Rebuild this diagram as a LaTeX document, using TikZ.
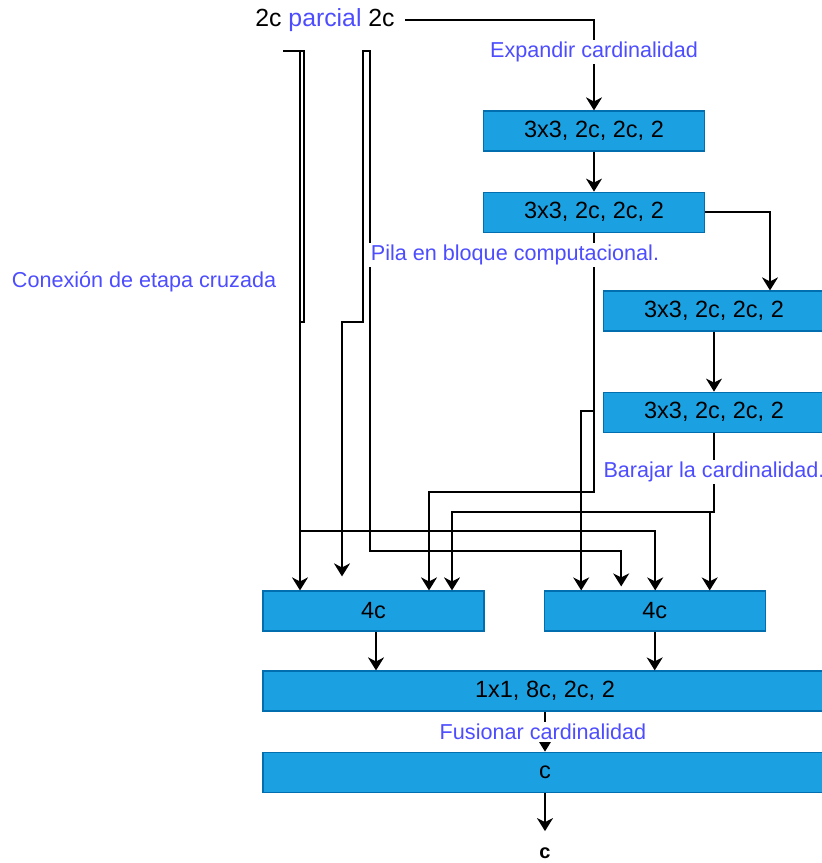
\documentclass[tikz,border=0pt]{standalone}
\usepackage{fontspec}
\setmainfont{Liberation Sans}
\definecolor{bloqueazul}{RGB}{27, 161, 226}
\definecolor{bordeazul}{RGB}{0, 110, 175}
\definecolor{textoazul}{RGB}{77, 77, 255}
\usetikzlibrary{arrows.meta, positioning, calc}

\begin{document}
\begin{tikzpicture}[x=0.5pt, y=-0.5pt,
  bloque/.style={draw=bordeazul, fill=bloqueazul, line width=0.6pt, minimum width=110.5pt, minimum height=20pt, inner sep=0pt, font=\fontsize{11.75}{14}\selectfont},
  bloqueancho/.style={bloque, minimum width=282pt},
  etiqueta/.style={fill=white, text=textoazul, inner sep=1pt, font=\fontsize{10.8}{13}\selectfont},
  flecha/.style={line width=0.8pt, -{Stealth[length=6.5pt, width=8pt, inset=2pt]}}]

  \useasboundingbox (0,0) rectangle (822,863);

  % entrada
  \node[anchor=west, inner sep=5pt, font=\fontsize{12.4}{15}\selectfont] (entrada) at (245,20) {2c \textcolor{textoazul}{parcial} 2c};
  \coordinate (s1) at (283,51);
  \coordinate (s2) at (366.5,51);

  % bloques
  \node[bloque] (b1) at (594,131) {3x3, 2c, 2c, 2};
  \node[bloque, below=20pt of b1] (b2) {3x3, 2c, 2c, 2};
  \node[bloque] (b3) at (714,311) {3x3, 2c, 2c, 2};
  \node[bloque, below=30pt of b3] (b4) {3x3, 2c, 2c, 2};
  \node[bloque] (c4a) at (373.5,611) {4c};
  \node[bloque, right=29.5pt of c4a] (c4b) {4c};
  \node[bloqueancho] (fus) at (545,691) {1x1, 8c, 2c, 2};
  \node[bloqueancho, below=20pt of fus] (sal) {c};
  \node[inner sep=0pt, font=\bfseries\fontsize{10}{12}\selectfont] (fin) at (545,853) {c};

  % conexiones
  \draw[flecha] (entrada.east) -| (b1.north);
  \draw[flecha] (b1) -- (b2);
  \draw[flecha] (b2.east) -| ($(b3.north)+(56,0)$);
  \draw[flecha] (b3) -- (b4);
  \draw[flecha] (b2.south) -- (b2.south |- 0,492) -| ($(c4a.north)+(55.5,0)$);
  \draw[flecha] (b2.south) -- (b2.south |- 0,411) -| ($(c4b.north)+(-73.5,0)$);
  \draw[flecha] (b4.south) -- (b4.south |- 0,512) -| ($(c4a.north)+(78.5,0)$);
  \draw[flecha] (b4.south) -- (b4.south |- 0,512) -| ($(c4b.north)+(55,0)$);
  \draw[flecha] (s1) -- (304,51) -- (304,322) -- (300,322) -- ($(c4a.north)+(-73.5,0)$);
  \draw[flecha] (s1) -| (300,531) -| ($(c4b.north)+(0.5,0)$);
  \draw[flecha, shorten >=7pt] (s2) -- (363,51) -- (363,322) -| ($(c4a.north)+(-31.5,0)$);
  \draw[flecha, shorten >=2pt] (s2) -- (370,51) -- (370,551) -| ($(c4b.north)+(-33.5,0)$);
  \draw[flecha] ($(c4a.south)+(2.5,0)$) -- ($(c4a.south |- fus.north)+(2.5,0)$);
  \draw[flecha] (c4b.south) -- (c4b.south |- fus.north);
  \draw[flecha] (fus) -- (sal);
  \draw[flecha, shorten >=8pt] (sal) -- (fin);

  % etiquetas
  \node[etiqueta] (expandir) at (594,52) {Expandir cardinalidad};
  \node[etiqueta] (pila) at (515,255) {Pila en bloque computacional.};
  \node[etiqueta] (barajar) at (714,472) {Barajar la cardinalidad.};
  \node[etiqueta] (fusionar) at (543,732) {Fusionar cardinalidad};
  \node[etiqueta] (cruzada) at (144,282) {Conexión de etapa cruzada};
\end{tikzpicture}
\end{document}
